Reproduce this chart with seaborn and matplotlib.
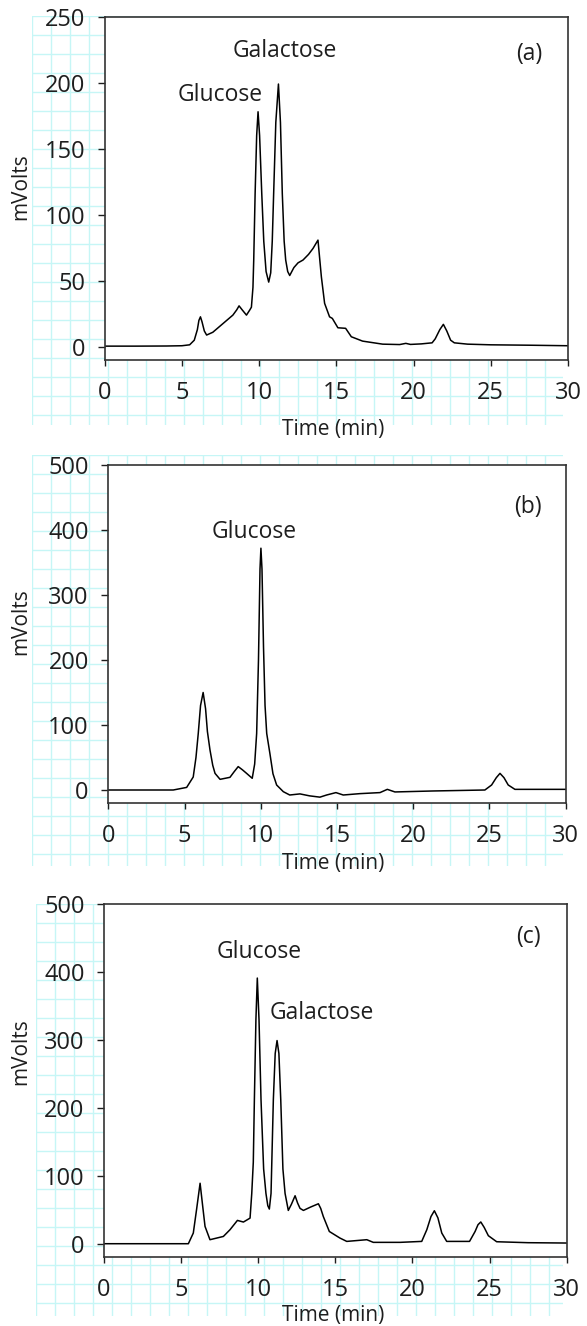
import numpy as np
import matplotlib
matplotlib.use('Agg')
import matplotlib.pyplot as plt
import seaborn as sns

# panel (a) trace
time_a = [0, 2, 4, 5.0, 5.5, 5.8, 6.0, 6.1, 6.2, 6.3, 6.45, 6.6, 7.0, 7.67, 8.3, 8.55, 8.7, 8.9, 9.18,
          9.4, 9.5, 9.6, 9.65, 9.74, 9.84, 9.93, 10.03, 10.17, 10.3, 10.45, 10.62, 10.75, 10.85,
          10.94, 11.08, 11.25, 11.38, 11.5, 11.62, 11.72, 11.85, 11.98, 12.25, 12.52, 12.84,
          13.2, 13.49, 13.81, 14.03, 14.24, 14.56, 14.74, 15.1, 15.6, 15.97, 16.7, 18.0, 19.1,
          19.5, 19.8, 20.5, 21.2, 21.4, 21.7, 21.93, 22.15, 22.4, 22.64, 23.5, 25, 27.5, 30]
mv_a = [0.5, 0.5, 0.6, 0.8, 1.5, 5, 13, 20, 22.7, 19, 12, 8.9, 11, 17.7, 24, 28, 31, 28, 24,
        28, 30, 45, 65.7, 116, 160, 178, 160, 116, 80, 57, 49, 56, 80,
        116, 170, 199, 170, 116, 80, 65.7, 57, 54, 60, 63.6, 65.7,
        70, 74.5, 80.8, 53, 32.9, 22.7, 21.5, 14.4, 14, 7.6, 4.3, 2, 1.7,
        2.6, 1.8, 2.2, 3, 6, 13, 17, 12, 5, 3, 2, 1.5, 1.2, 0.8]

# panel (b) trace
time_b = [0, 2, 4.26, 5.14, 5.57, 5.75, 5.9, 6.05, 6.22, 6.38, 6.5, 6.67, 6.85, 7.0, 7.33,
          7.98, 8.25, 8.52, 8.8, 9.07, 9.44, 9.6, 9.73, 9.85, 9.95, 10.01, 10.08, 10.18, 10.28,
          10.39, 10.6, 10.8, 11.04, 11.48, 11.9, 12.57, 13.2, 13.88, 14.32, 14.93, 15.41, 16.5,
          17.82, 18.3, 18.8, 21.3, 24.7, 25.14, 25.45, 25.69, 25.95, 26.23, 26.67, 28, 30]
mv_b = [0, 0, 0, 4, 20, 50, 87, 130, 150, 125, 90, 61.5, 38, 25.6, 16.4,
        19.5, 28, 36, 31, 25.6, 18, 40, 87, 200, 340, 372, 340, 220, 130,
        87, 56, 25, 7.7, -2.6, -7.7, -6, -9, -11, -7.7, -4, -7.7, -5.6,
        -4, 1, -3, -1.5, 0, 7.7, 19, 25.6, 19, 7.7, 1, 1, 1]

# panel (c) trace
time_c = [0, 2, 4, 5.47, 5.79, 6.0, 6.23, 6.4, 6.55, 6.87, 7.74, 8.17, 8.65, 9.04, 9.47,
          9.58, 9.68, 9.75, 9.85, 9.94, 10.05, 10.18, 10.35, 10.5, 10.62, 10.72, 10.83, 10.98,
          11.1, 11.22, 11.34, 11.46, 11.6, 11.74, 11.95, 12.15, 12.39, 12.55, 12.71, 12.93,
          13.4, 13.9, 14.05, 14.22, 14.61, 15.3, 15.74, 17.04, 17.46, 19.2, 20.6, 20.93, 21.2,
          21.42, 21.65, 21.9, 22.22, 23.7, 24.06, 24.25, 24.43, 24.65, 24.92, 25.46, 27.5, 30]
mv_c = [0, 0, 0, 0, 15.7, 50, 89, 55, 25.5, 5.9, 10.7, 20.6, 34.3, 31.9, 37.7,
        74, 120, 212, 330, 391, 330, 212, 110, 74, 56, 51, 74, 212,
        280, 299, 280, 212, 110, 74, 49, 58, 70.6, 60, 52, 49,
        54, 58.8, 52, 40, 18, 8.3, 3.4, 5.9, 2, 2, 3.4, 20.6, 40,
        48.5, 38, 15.7, 3.4, 3.4, 18, 28, 32, 24, 11.8, 2.9, 1.5, 1]

sns.set_style('white')
plt.rcParams['font.family'] = ['Open Sans', 'DejaVu Sans']
TICK_FS = 17
NOTE_FS = 16.5
LAB_FS = 15
INK = '#1e1e1e'

W, H = 587, 1326
fig = plt.figure(figsize=(W / 100, H / 100), dpi=100)
fig.patch.set_facecolor('white')


def px_axes(x0, y0, x1, y1, **kw):
    # rectangle given in image pixels (top-left origin)
    return fig.add_axes([x0 / W, 1 - y1 / H, (x1 - x0) / W, (y1 - y0) / H], **kw)


# graph-paper background behind each panel
for (gx0, gy0, gx1, gy1) in [(32, 16, 563, 425), (32, 455, 563, 866), (36, 904, 563, 1316)]:
    bg = px_axes(gx0, gy0, gx1, gy1, zorder=0)
    bg.set_xlim(gx0 - 0.5, gx1)
    bg.set_ylim(gy1, gy0 - 0.5)
    bg.set_xticks(np.arange(gx0, gx1, 19))
    bg.set_yticks(np.arange(gy0, gy1, 19))
    bg.grid(True, color='#c6f6f6', lw=1.0)
    bg.tick_params(length=0, labelbottom=False, labelleft=False)
    for s in bg.spines.values():
        s.set_visible(False)
    bg.set_facecolor('white')

panels = [
    dict(rect=(104.7, 16.7, 568, 360), t=time_a, v=mv_a, ylim=(-10, 250),
         yticks=[0, 50, 100, 150, 200, 250], tag='(a)', tag_y=222,
         notes=[('Galactose', 11.65, 224), ('Glucose', 7.45, 191)],
         ylab_y=187, xlab_y=430),
    dict(rect=(108.3, 465, 565.7, 803), t=time_b, v=mv_b, ylim=(-20, 500),
         yticks=[0, 100, 200, 300, 400, 500], tag='(b)', tag_y=435,
         notes=[('Glucose', 9.6, 397)], ylab_y=622, xlab_y=863),
    dict(rect=(104, 904, 566.7, 1257.3), t=time_c, v=mv_c, ylim=(-20, 500),
         yticks=[0, 100, 200, 300, 400, 500], tag='(c)', tag_y=451,
         notes=[('Glucose', 10.05, 429), ('Galactose', 14.1, 340)],
         ylab_y=1052, xlab_y=1315),
]

for p in panels:
    ax = px_axes(*p['rect'], zorder=1)
    ax.set_facecolor('white')
    sns.lineplot(x=p['t'], y=p['v'], ax=ax, color='black', lw=1.1,
                 estimator=None, sort=False)
    ax.set_xlim(0, 30)
    ax.set_ylim(*p['ylim'])
    ax.set_xticks([0, 5, 10, 15, 20, 25, 30])
    ax.set_yticks(p['yticks'])
    for s in ax.spines.values():
        s.set_visible(True)
        s.set_color('#333333')
        s.set_linewidth(1.2)
    ax.tick_params(axis='x', direction='out', length=4, width=1, pad=11,
                   labelsize=TICK_FS, colors=INK, bottom=True)
    ax.tick_params(axis='y', direction='out', length=5, width=1, pad=9,
                   labelsize=TICK_FS, colors=INK, left=True)
    ax.set_xlabel('')
    ax.set_ylabel('')
    fig.text(333 / W, 1 - p['xlab_y'] / H, 'Time (min)', ha='center', va='center',
             fontsize=LAB_FS, color=INK)
    fig.text(21 / W, 1 - p['ylab_y'] / H, 'mVolts', ha='center', va='center',
             rotation=90, fontsize=LAB_FS, color=INK)
    ax.text(27.5, p['tag_y'], p['tag'], ha='center', va='center', fontsize=NOTE_FS,
            color=INK)
    for label, tx, ty in p['notes']:
        ax.text(tx, ty, label, ha='center', va='center', fontsize=NOTE_FS, color=INK)

fig.savefig('out.png', dpi=100, facecolor='white')
